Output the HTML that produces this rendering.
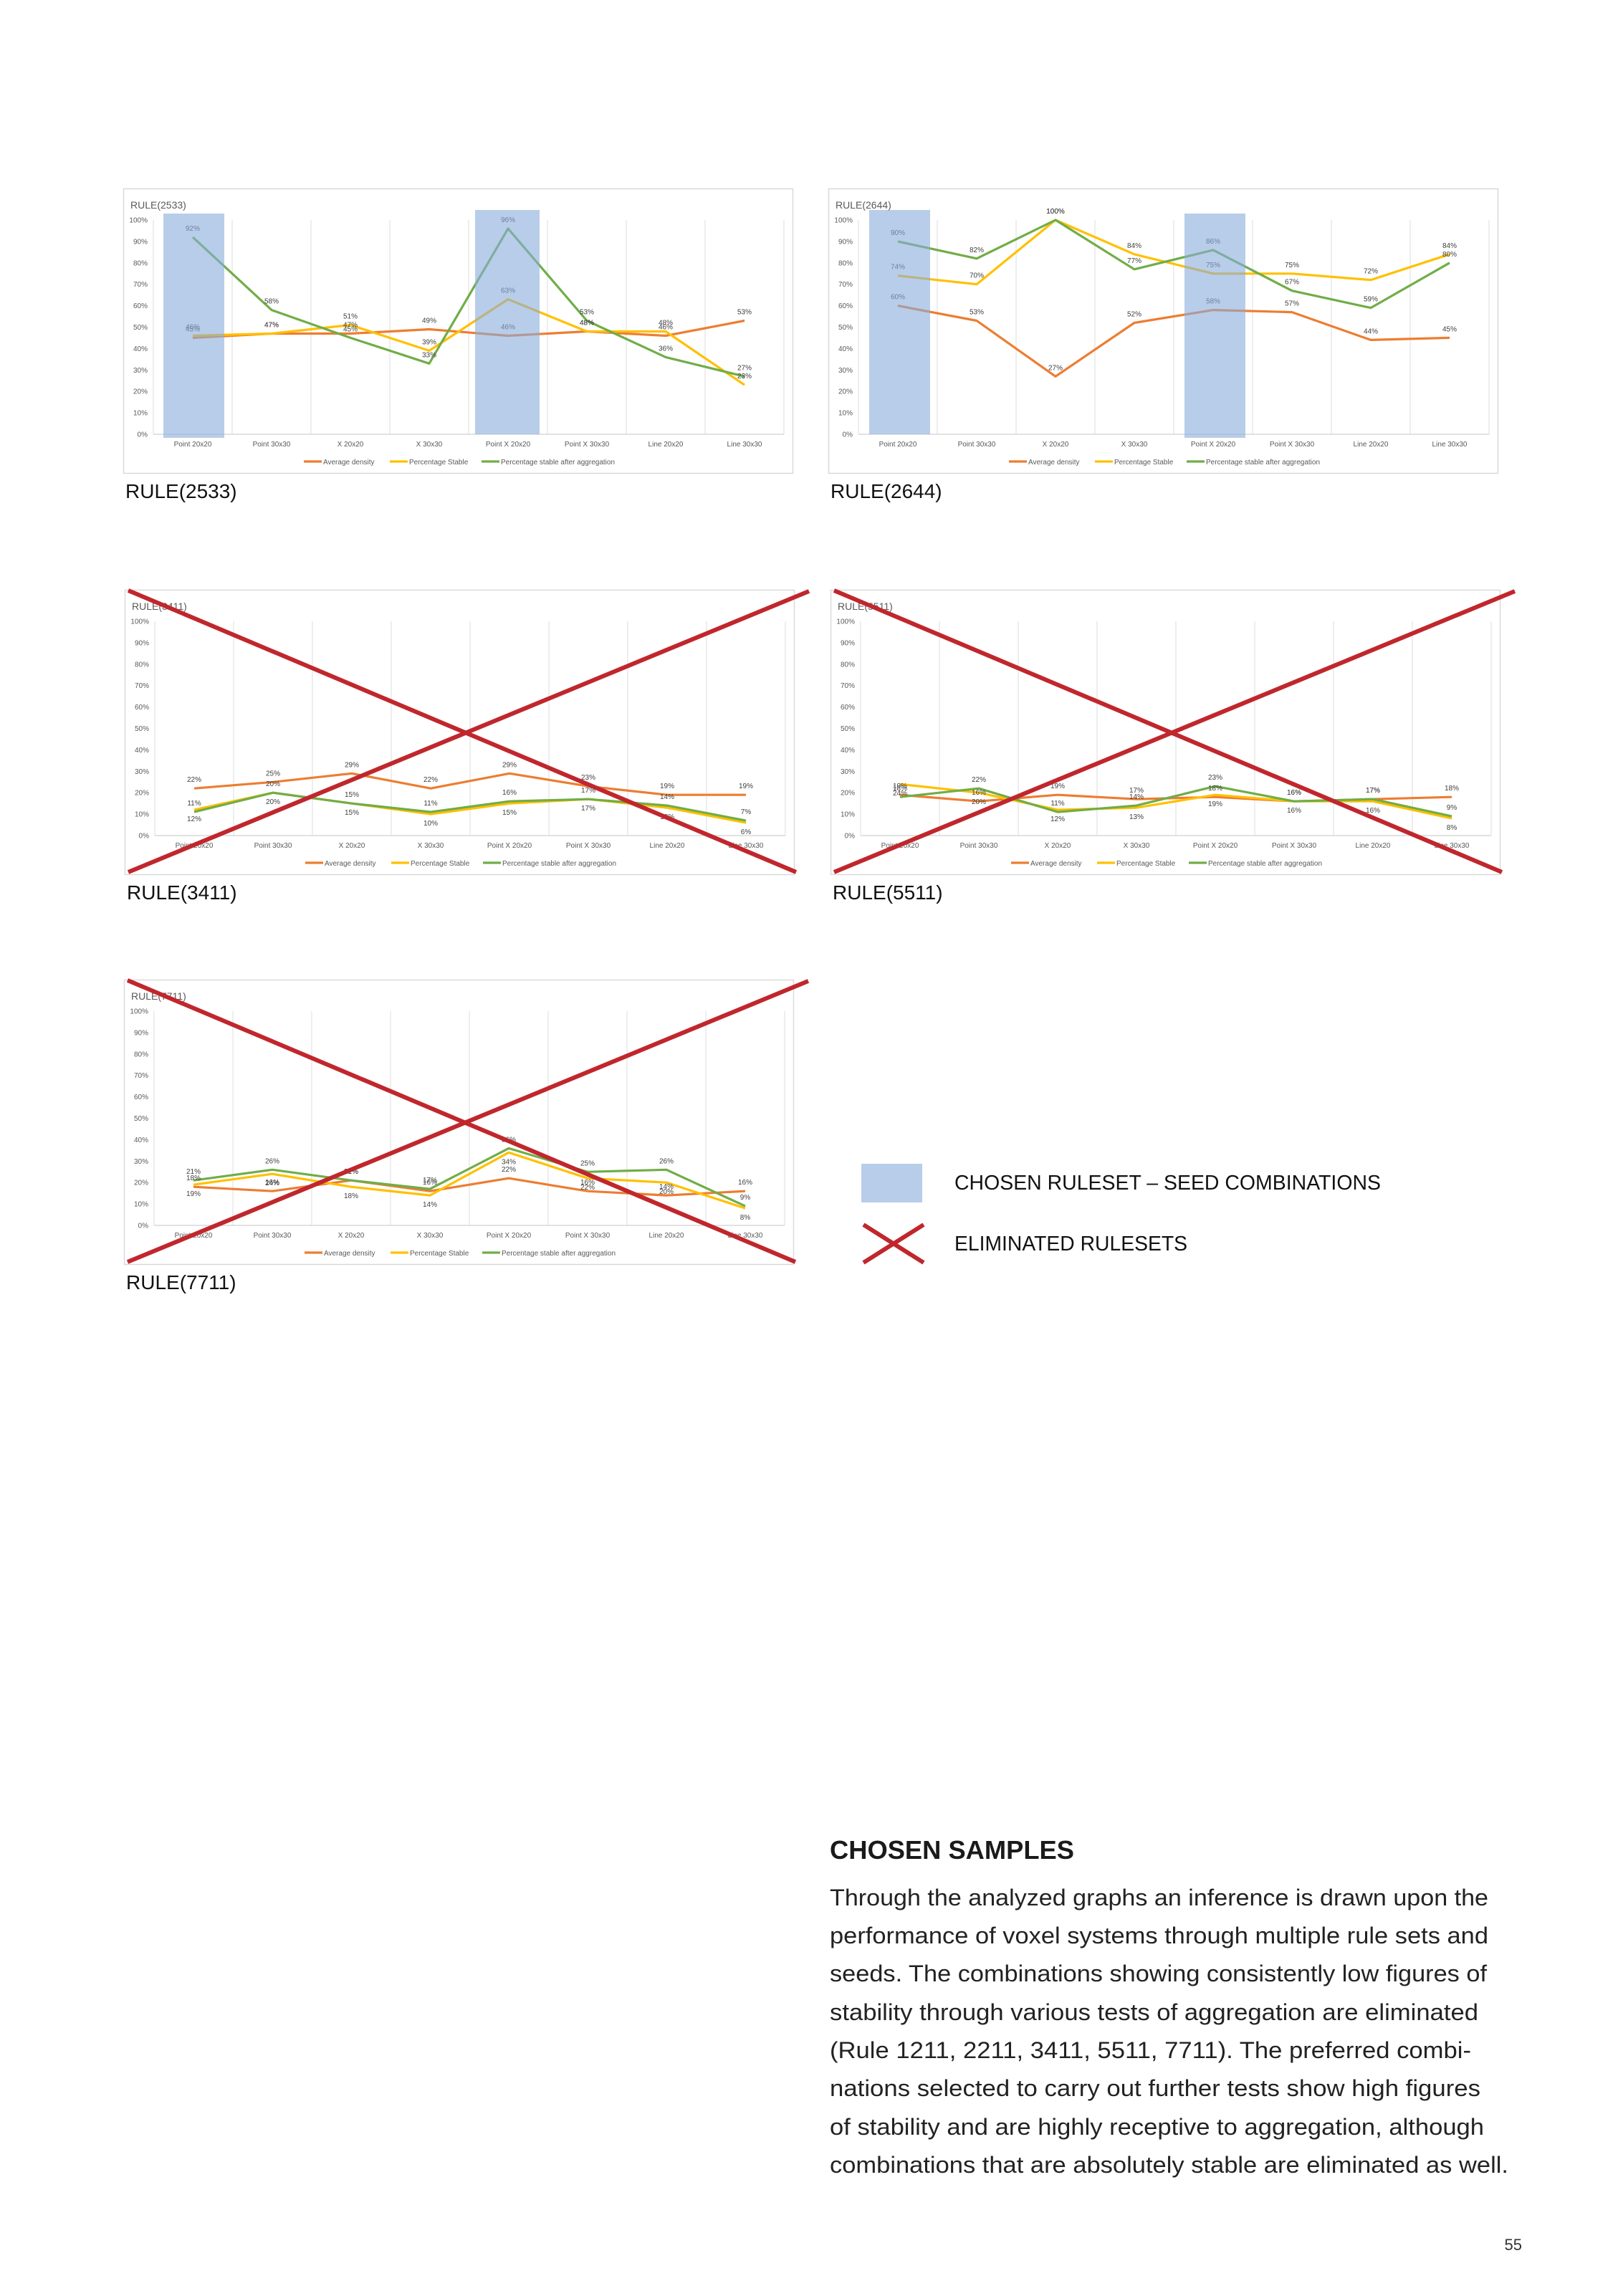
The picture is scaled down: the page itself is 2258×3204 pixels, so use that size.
<!DOCTYPE html>
<html><head><meta charset="utf-8">
<style>
html,body{margin:0;padding:0;background:#fff;}
svg{display:block;}
text{font-family:"Liberation Sans",sans-serif;}
</style></head>
<body>
<svg id="page" width="2258" height="3204" viewBox="0 0 2258 3204" xmlns="http://www.w3.org/2000/svg">
<rect x="0" y="0" width="2258" height="3204" fill="#fff"/>
<g id="charts"></g>

<g>
  <rect x="1202" y="1624" width="85" height="54" fill="#b8cde9"/>
  <text x="1332" y="1660" font-size="29" fill="#111" textLength="595" lengthAdjust="spacingAndGlyphs">CHOSEN RULESET – SEED COMBINATIONS</text>
  <line x1="1205" y1="1709" x2="1289" y2="1762" stroke="#c0272d" stroke-width="6"/>
  <line x1="1205" y1="1762" x2="1289" y2="1709" stroke="#c0272d" stroke-width="6"/>
  <text x="1332" y="1745" font-size="29" fill="#111" textLength="325" lengthAdjust="spacingAndGlyphs">ELIMINATED RULESETS</text>
</g>

<g>
  <text x="1158" y="2594" font-size="36" font-weight="bold" fill="#1a1a1a" textLength="341" lengthAdjust="spacingAndGlyphs">CHOSEN SAMPLES</text>
  <g font-size="32" fill="#222">
    <text x="1158" y="2659" textLength="919" lengthAdjust="spacingAndGlyphs">Through the analyzed graphs an inference is drawn upon the</text>
    <text x="1158" y="2712" textLength="919" lengthAdjust="spacingAndGlyphs">performance of voxel systems through multiple rule sets and</text>
    <text x="1158" y="2765" textLength="917" lengthAdjust="spacingAndGlyphs">seeds. The combinations showing consistently low figures of</text>
    <text x="1158" y="2819" textLength="905" lengthAdjust="spacingAndGlyphs">stability through various tests of aggregation are eliminated</text>
    <text x="1158" y="2872" textLength="895" lengthAdjust="spacingAndGlyphs">(Rule 1211, 2211, 3411, 5511, 7711). The preferred combi-</text>
    <text x="1158" y="2925" textLength="908" lengthAdjust="spacingAndGlyphs">nations selected to carry out further tests show high figures</text>
    <text x="1158" y="2979" textLength="913" lengthAdjust="spacingAndGlyphs">of stability and are highly receptive to aggregation, although</text>
    <text x="1158" y="3032" textLength="947" lengthAdjust="spacingAndGlyphs">combinations that are absolutely stable are eliminated as well.</text>
  </g>
  <text x="2124" y="3140" font-size="22" fill="#333" text-anchor="end">55</text>
</g>
</svg>

<script>
const categories = ["Point 20x20","Point 30x30","X 20x20","X 30x30","Point X 20x20","Point X 30x30","Line 20x20","Line 30x30"];
const yTicks = [0,10,20,30,40,50,60,70,80,90,100];
const seriesNames = ["Average density","Percentage Stable","Percentage stable after aggregation"];

const density2533 = [45,47,47,49,46,48,46,53];
const stable2533  = [46,47,51,39,63,48,48,23];
const aggr2533    = [92,58,45,33,96,53,36,27];

const density2644 = [60,53,27,52,58,57,44,45];
const stable2644  = [74,70,100,84,75,75,72,84];
const aggr2644    = [90,82,100,77,86,67,59,80];

const density3411 = [22,25,29,22,29,23,19,19];
const stable3411  = [12,20,15,10,15,17,13,6];
const aggr3411    = [11,20,15,11,16,17,14,7];

const density5511 = [19,16,19,17,18,16,17,18];
const stable5511  = [24,20,12,13,19,16,16,8];
const aggr5511    = [18,22,11,14,23,16,17,9];

const density7711 = [18,16,21,16,22,16,14,16];
const stable7711  = [19,24,18,14,34,22,20,8];
const aggr7711    = [21,26,21,17,36,25,26,9];

const NS = "http://www.w3.org/2000/svg";
const COLORS = ["#ED7D31","#FFC000","#70AD47"];
function mk(tag, attrs, parent){
  const e = document.createElementNS(NS, tag);
  for (const k in attrs) e.setAttribute(k, attrs[k]);
  parent.appendChild(e);
  return e;
}
const root = document.getElementById("charts");

function drawChart(opt){
  const bx = opt.x, by = opt.y, W = 934, H = 397;
  const g = mk("g", {}, root);
  
  
  const frame = mk("rect", {x:bx+0.5, y:by+0.5, width:W, height:H, fill:"#fff", stroke:"#d9d9d9", "stroke-width":1.5}, g);
  
  
  const px0 = bx+42, px1 = bx+922, pyT = by+44, pyB = by+343;
  const cw = (px1-px0)/categories.length;
  const xs = i => px0 + cw*(i+0.5);
  const ys = v => pyB - (pyB-pyT)*v/100;
  const title = mk("text", {x:bx+10, y:by+28, "font-size":14, fill:"#595959"}, g);
  title.textContent = "RULE(" + opt.rule + ")";
  
  
  for (let i=0;i<=categories.length;i++){
    const gl = mk("line", {x1:px0+cw*i, x2:px0+cw*i, y1:pyT, y2:pyB, stroke:"#e3e3e3", "stroke-width":1.2}, g);
    
    
  }
  const ax = mk("line", {x1:px0, x2:px1, y1:pyB, y2:pyB, stroke:"#d9d9d9", "stroke-width":1.5}, g);
  
  
  yTicks.forEach(t=>{
    const tl = mk("text", {x:px0-8, y:ys(t)+3.5, "font-size":10, fill:"#595959", "text-anchor":"end"}, g);
    tl.textContent = t + "%";
    
    
  });
  categories.forEach((c,i)=>{
    const cl = mk("text", {x:xs(i), y:by+360, "font-size":10, fill:"#595959", "text-anchor":"middle"}, g);
    cl.textContent = c;
    
    
  });
  opt.series.forEach((s,k)=>{
    const pts = s.map((v,i)=>xs(i).toFixed(1)+","+ys(v).toFixed(1)).join(" ");
    const pl = mk("polyline", {points:pts, fill:"none", stroke:COLORS[k], "stroke-width":3.2, "stroke-linejoin":"round"}, g);
    
    
  });
  opt.series.forEach((s,k)=>{
    s.forEach((v,i)=>{
      const dy = (k===1 && opt.below) ? 16 : -9;
      const dl = mk("text", {x:xs(i), y:ys(v)+dy, "font-size":10, fill:"#404040", "text-anchor":"middle"}, g);
      dl.textContent = v + "%";
      
      
    });
  });
  (opt.blue||[]).forEach(r=>{
    const br = mk("rect", {x:bx+r[0], y:by+r[1], width:r[2], height:r[3], fill:"rgb(137,172,218)", "fill-opacity":0.6}, g);
    
    
  });
  const lc = bx + W/2;
  const offs = [-215,-95,33];
  seriesNames.forEach((n,k)=>{
    const ll = mk("line", {x1:lc+offs[k], x2:lc+offs[k]+25, y1:by+381, y2:by+381, stroke:COLORS[k], "stroke-width":3.2}, g);
    
    
    const lt = mk("text", {x:lc+offs[k]+27, y:by+385, "font-size":10, fill:"#595959"}, g);
    lt.textContent = n;
    
    
  });
  if (opt.cross){
    const c1 = mk("line", {x1:bx+5, y1:by+1, x2:bx+937, y2:by+394, stroke:"#c0272d", "stroke-width":6}, g);
    
    
    const c2 = mk("line", {x1:bx+5, y1:by+394, x2:bx+955, y2:by+2, stroke:"#c0272d", "stroke-width":6}, g);
    
    
  }
  const cap = mk("text", {x:bx+3, y:by+432, "font-size":28, fill:"#111"}, g);
  cap.textContent = "RULE(" + opt.rule + ")";
  
  
}

drawChart({rule:"2533", x:172, y:263, series:[density2533,stable2533,aggr2533], blue:[[56,35,85,313],[491,30,90,313]]});
drawChart({rule:"2644", x:1156, y:263, series:[density2644,stable2644,aggr2644], blue:[[57,30,85,313],[497,35,85,313]]});
drawChart({rule:"3411", x:174, y:823, series:[density3411,stable3411,aggr3411], cross:true, below:true});
drawChart({rule:"5511", x:1159, y:823, series:[density5511,stable5511,aggr5511], cross:true, below:true});
drawChart({rule:"7711", x:173, y:1367, series:[density7711,stable7711,aggr7711], cross:true, below:true});
</script>
</body></html>
